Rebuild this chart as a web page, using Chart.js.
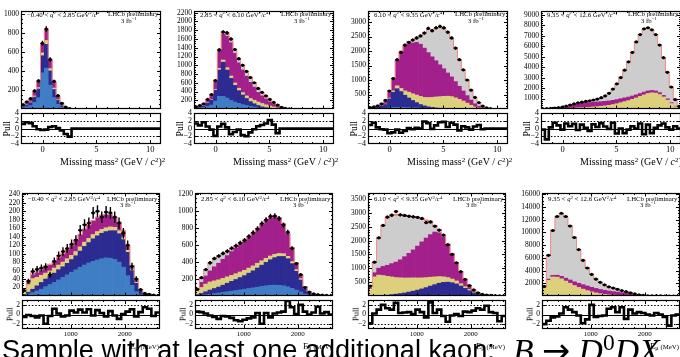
<!DOCTYPE html>
<html><head><meta charset="utf-8">
<script src="https://cdn.jsdelivr.net/npm/chart.js@4.4.1/dist/chart.umd.min.js"></script>
<style>
html,body{margin:0;padding:0;background:#fff}
body{width:680px;height:357px;overflow:hidden;position:relative}
canvas{position:absolute}
.t{position:absolute;white-space:nowrap;color:#000;font-family:'Liberation Serif',serif;line-height:1}
.sp{position:relative;font-size:70%}
</style></head><body>
<script>
// ---------------- DATA ----------------
const qLow  = ['−0.40','2.85','6.10','9.35'];
const qHigh = ['2.85','6.10','9.35','12.6'];

const topXTicks = [0,5,10];
const botXTicks = [1000,2000];
const topPullTicks = [-4,-2,0,2,4];
const botPullTicks = [-2,0,2];
const p1YTicks = [200,400,600,800,1000];
const p2YTicks = [200,400,600,800,1000,1200,1400,1600,1800,2000,2200];
const p3YTicks = [500,1000,1500,2000,2500,3000];
const p4YTicks = [1000,2000,3000,4000,5000,6000,7000,8000,9000];
const p5YTicks = [20,40,60,80,100,120,140,160,180,200,220,240];
const p6YTicks = [200,400,600,800,1000,1200];
const p7YTicks = [500,1000,1500,2000,2500,3000,3500];
const p8YTicks = [2000,4000,6000,8000,10000,12000,14000,16000];

// ---- Top row: missing mass^2, 36 bins in [-2, 11] ----
const p1LB   = [14,24,36,70,120,380,430,250,120,50,18,5,1];
const p1DB   = [12,20,30,55,90,180,250,150,85,40,17,6,1];
const p1Y    = [4,6,8,12,15,30,40,25,15,8,4,2,1];
const p1M    = [12,20,30,45,62,95,115,90,65,38,18,6,2];
const p1G    = [3,5,6,6,6,5,5,5,5,4,3,1,0];
const p1Data = [45,75,110,190,295,690,840,520,290,140,60,20,5];
const p1Pull = [1.2,1.6,1.4,0.6,-0.2,-0.4,-0.3,0.4,0.6,0.1,-0.5,-1.4,-2.1];

const p2LB   = [15,25,35,60,90,180,290,290,250,200,160,130,100,80,60,45,30,20,12,8,5,3,1];
const p2DB   = [15,22,35,70,110,250,600,780,640,500,380,290,220,160,110,75,50,30,18,10,6,3,1];
const p2Y    = [3,5,7,10,12,20,40,50,55,55,55,55,55,60,70,80,80,75,65,50,35,20,8,3,1];
const p2M    = [12,20,33,65,100,180,390,590,720,760,680,580,520,450,370,300,220,175,135,95,65,40,18,7,2];
const p2G    = [4,6,8,12,15,15,25,40,60,70,70,80,90,95,95,90,80,70,62,50,35,22,11,5,2];
const p2R    = [1,2,2,3,3,5,5,10,15,15,15,15,15,15,15,10,10,10,8,7,4,2,1];
const p2Data = [50,80,120,220,330,650,1350,1760,1740,1600,1360,1150,1000,860,720,600,470,380,300,220,150,90,40,15,5];
const p2Pull = [1.3,0.8,1.6,0.5,-0.3,-1.9,0.5,1.2,0.3,-1.5,-0.9,-0.3,-1.7,-2.0,-1.0,-0.2,0.6,0.9,1.3,2.2,1.0,-1.2];

const p3LB   = [5,8,10,15,25,40,55,60,60,55,50,45,40,35,30,25,20,15,10,8,6,4,3,2,1,1];
const p3DB   = [20,28,45,80,130,310,520,640,540,420,330,250,180,120,80,50,30,20,15,10,6,4,3,2,1,1];
const p3Y    = [5,6,8,10,15,30,50,100,110,150,200,230,260,280,290,320,350,380,400,420,430,420,380,330,270,200,130,70,35,15,5,1];
const p3M    = [15,22,38,60,105,210,390,870,1250,1550,1690,1750,1820,1800,1700,1550,1400,1250,1100,950,800,680,560,450,350,260,180,110,60,28,12,3];
const p3G    = [5,6,9,15,25,30,35,30,40,50,60,80,130,280,520,780,900,1080,1250,1350,1380,1310,1150,900,720,530,340,215,120,55,22,6];
const p3R    = [0,0,0,0,0,0,0,0,0,0,0,0,0,0,0,20,30,40,50,40,30,20,15,10,8,6,4,3,2,1];
const p3Data = [50,70,110,180,300,620,1050,1700,1950,2200,2300,2380,2450,2520,2620,2780,2700,2800,2850,2800,2650,2450,2100,1700,1350,1000,650,400,220,100,40,10];
const p3Pull = [0.9,1.5,0.3,-0.2,-0.3,-1.2,-1.0,-0.3,-1.1,-0.6,0.1,-0.2,0.2,0.0,1.8,1.4,-0.1,0.8,1.6,1.7,0.4,1.5,1.0,-0.5,0.6,0.3,-0.3,0.5,0.9,-0.2];

const p4LB   = [5,8,10,12,12,12,10,8,6,5,4,3,2,2,1,1];
const p4DB   = [5,8,10,12,12,10,8,6,5,4,3,2,1,1,1];
const p4Y    = [0,2,5,8,15,25,40,60,80,100,120,140,160,190,220,260,300,350,420,500,600,700,800,920,1050,1200,1350,1480,1550,1520,1380,1150,850,520,220,60];
const p4M    = [5,12,20,35,55,80,140,210,280,350,410,440,450,450,450,440,430,420,410,400,380,360,340,320,300,280,260,240,220,200,180,150,120,80,40,12];
const p4G    = [5,10,15,23,36,53,72,96,109,121,113,135,167,217,278,379,520,730,1070,1500,2020,2640,3360,4160,5050,5620,6040,6030,5780,5380,4540,3600,2530,1500,640,178];
const p4Data = [20,40,60,90,130,180,270,380,480,580,650,720,780,860,950,1080,1250,1500,1900,2400,3000,3700,4500,5400,6400,7100,7650,7750,7550,7100,6100,4900,3500,2100,900,250];
const p4Pull = [-0.3,-2.8,0.3,1.5,0.8,-0.3,1.3,0.6,1.2,-0.4,1.0,0.2,-0.6,1.1,0.4,1.4,0.5,-0.1,1.5,-1.3,0.0,-1.2,-0.3,0.6,0.0,1.3,-1.5,1.0,-1.2,0.2,0.8,1.3,0.3,-0.3,0.6,0];

// ---- Bottom row: E_mu, 32 bins in [100, 2650] MeV ----
const p5LB   = [2,5,8,12,16,22,27,32,38,44,50,56,62,68,73,78,82,85,88,90,89,86,80,68,48,25,10,3,1];
const p5DB   = [2,4,8,12,16,18,20,22,24,25,27,30,33,38,44,48,53,57,60,62,65,68,67,65,55,35,20,8,3,1,1];
const p5Y    = [5,18,25,20,17,14,12,12,11,11,11,10,10,10,10,10,10,10,9,9,9,8,7,6,5,4,3,2,1,1];
const p5M    = [2,5,8,10,11,13,14,15,17,19,21,23,26,28,30,31,32,33,33,31,28,24,20,15,11,7,4,2,1,1,1,1];
const p5G    = [2,3,6,7,6,4,2,1,1,1,1,1,1,1,1,1,1,1,1,1,1,1,1,1,1,1,1];
const p5Data = [13,35,58,63,66,69,50,82,95,105,112,122,132,155,168,172,196,200,186,198,196,186,172,148,120,70,40,15,6,4,2,1];
const p5Pull = [-0.5,-0.1,-0.3,-0.6,-0.2,-1.9,-0.3,1.2,0.2,-0.4,-0.2,0.8,0.4,1.0,0.4,1.1,-0.2,0.9,0.3,-0.4,0.7,-0.2,-0.9,0.1,0.6,1.1,-0.4,0.5,1.5,1.2,-0.3,0.4];

const p6LB   = [5,10,15,20,28,35,42,50,57,64,72,80,88,96,104,112,120,126,128,126,120,108,90,70,48,22,9,4,2,1,1];
const p6DB   = [10,20,35,50,60,70,85,100,115,130,145,160,180,200,225,250,275,300,322,338,345,330,290,220,140,60,25,13,8,5,3,2];
const p6Y    = [40,70,90,95,90,85,80,75,70,68,65,62,60,58,55,52,48,44,40,36,32,28,24,20,16,10,6,4,3,2,2,1];
const p6M    = [15,60,95,130,165,195,225,250,280,303,328,345,367,387,403,428,445,453,448,418,351,272,165,79,45,17,7,4,2,2,1,1];
const p6G    = [10,55,75,95,97,85,68,50,38,25,15,8,5,4,3,3,2,2,2,2,2,2,1,1,1,1,1];
const p6Data = [80,215,310,390,440,470,500,525,560,590,625,655,700,745,790,850,895,935,940,910,835,750,560,380,250,100,45,25,15,10,7,4];
const p6Pull = [0.6,0.5,0.2,-0.2,-0.5,-0.9,-0.3,-0.4,-0.7,-1.2,-1.4,-1.1,-0.8,-0.6,0.3,-1.9,0.3,-0.6,0.2,0.4,0.6,2.8,1.5,0.1,2.0,0.6,0.0,0.4,1.6,0.2,0.5,0.0];

const p7LB   = [0,0,0,0,0,5,5,8,10,12,15,18,20,24,28,30,32,32,30,28,25,20,15,10,6,3,2,1];
const p7DB   = [5,10,15,20,30,45,60,80,100,130,160,195,235,280,330,380,430,460,470,450,410,340,260,180,110,60,30,17,10,6,4,2];
const p7Y    = [250,680,740,720,680,640,600,570,540,510,480,440,400,360,320,280,240,200,165,135,110,85,62,45,30,18,10,7,4,3,2,1];
const p7M    = [40,150,250,330,400,480,560,650,770,890,1010,1150,1300,1430,1540,1620,1580,1440,1200,920,650,432,261,144,73,34,18,10,6,3,2,2];
const p7G    = [60,360,1060,1430,1690,1700,1675,1572,1440,1298,1155,987,795,596,392,200,88,28,5];
const p7R    = [5,20,35,50,50,50,50,50,50,50,50,50,50,50,50,40,30,20,10,7,5,3,2,1,1];
const p7Data = [360,1220,2100,2550,2850,2920,3050,2930,2910,2880,2860,2840,2800,2650,2680,2520,2380,2200,1850,1500,1200,880,600,380,220,110,60,35,20,12,8,5];
const p7Pull = [-1.8,0.2,1.0,2.0,1.3,1.0,2.4,0.3,0.4,0.5,0.1,1.0,0.5,-0.6,2.5,0.3,1.0,-0.3,-1.5,-0.2,0.1,-0.3,0.6,0.5,0.8,1.3,1.0,1.8,0.5,0.3,-1.4,-0.3];

const p8LB   = [50,30,20,10,5];
const p8DB   = [50,30,20,10,5];
const p8Y    = [1200,2400,2950,2950,2700,2350,2000,1650,1350,1080,850,650,490,360,260,190,140,100,70,50,35,20,10,5,2,1];
const p8M    = [100,200,250,300,380,450,520,590,650,700,720,720,700,670,640,600,560,510,450,380,300,210,120,60,28,14,7,3,2,1,1,1];
const p8G    = [100,3740,7060,9230,9860,9600,8580,6960,5350,3870,2830,2030,1510,1120,850,660,530,420,330,250,175,110,60,25,10,5,3,2,1,1];
const p8Data = [1500,6400,10300,12500,13000,12500,11000,9200,7300,5600,4400,3400,2650,2150,1750,1450,1250,1050,850,680,500,330,190,90,40,20,10,5,3,2,1,1];
const p8Pull = [-2.0,-1.3,-0.6,-0.4,0.2,1.5,1.0,0.5,-0.2,-1.8,-1.0,2.0,-0.5,-0.3,-0.2,1.2,1.5,0.5,1.5,-0.9,1.0,0.2,0.5,0.3,0.0,-0.2,0.3,0.0,-0.5,-2.3,-0.2,0];

// ---------------- STYLE / LAYOUT ----------------
const COL = {lb:'#3f7ec4', db:'#2b2b91', y:'#ddd07c', m:'#a3208c', g:'#cdcdcd', r:'#e8432e'};
const OUTLINE = '#f28b82';
const ORDER = ['lb','db','y','m','g','r'];
const PADL=30, PADR=6, PADT=8, PADB=2;
const SERIF = "'Liberation Serif', serif";

const TOP = {T:11,B:111,pT:113,pB:144,xMin:-2,xMax:11,n:36,pMin:-4,pMax:4,pTicks:topPullTicks,
  xTicks:topXTicks,xMinorStep:1,xlab:16,xFont:8.5,pFont:8,annY:[4,3.2,10],W:140};
const BOT = {T:193,B:298,pT:300,pB:329,xMin:100,xMax:2650,n:32,pMin:-3,pMax:3,pTicks:botPullTicks,
  xTicks:botXTicks,xMinorStep:200,xlab:14,xFont:7,pFont:7.5,annY:[6.5,6,12],W:138};

const PANELS = [
 {row:TOP,L:21, q:0,comps:{lb:p1LB,db:p1DB,y:p1Y,m:p1M,g:p1G},data:p1Data,pull:p1Pull,ymax:1030,yTicks:p1YTicks,yMinor:50},
 {row:TOP,L:194,q:1,comps:{lb:p2LB,db:p2DB,y:p2Y,m:p2M,g:p2G,r:p2R},data:p2Data,pull:p2Pull,ymax:2240,yTicks:p2YTicks,yMinor:50},
 {row:TOP,L:368,q:2,comps:{lb:p3LB,db:p3DB,y:p3Y,m:p3M,g:p3G,r:p3R},data:p3Data,pull:p3Pull,ymax:3380,yTicks:p3YTicks,yMinor:100},
 {row:TOP,L:541,q:3,comps:{lb:p4LB,db:p4DB,y:p4Y,m:p4M,g:p4G},data:p4Data,pull:p4Pull,ymax:9350,yTicks:p4YTicks,yMinor:200},
 {row:BOT,L:22, q:0,comps:{lb:p5LB,db:p5DB,y:p5Y,m:p5M,g:p5G},data:p5Data,pull:p5Pull,ymax:243,yTicks:p5YTicks,yMinor:5},
 {row:BOT,L:195,q:1,comps:{lb:p6LB,db:p6DB,y:p6Y,m:p6M,g:p6G},data:p6Data,pull:p6Pull,ymax:1210,yTicks:p6YTicks,yMinor:50},
 {row:BOT,L:368,q:2,comps:{lb:p7LB,db:p7DB,y:p7Y,m:p7M,g:p7G,r:p7R},data:p7Data,pull:p7Pull,ymax:3720,yTicks:p7YTicks,yMinor:100},
 {row:BOT,L:542,q:3,comps:{lb:p8LB,db:p8DB,y:p8Y,m:p8M,g:p8G},data:p8Data,pull:p8Pull,ymax:16200,yTicks:p8YTicks,yMinor:500},
];

function mkCanvas(l,t,w,h){
  const c=document.createElement('canvas'); c.width=w; c.height=h;
  Object.assign(c.style,{left:l+'px',top:t+'px',width:w+'px',height:h+'px'});
  document.body.appendChild(c); return c;
}
function steps(a,b,s){const r=[];for(let v=a;v<=b+1e-9;v+=s)r.push(+v.toFixed(6));return r;}
function fmt(v){return v<0?'−'+Math.abs(v):String(v);}

function drawFrameTicks(ctx,a,X,Y,c){
  ctx.save(); ctx.strokeStyle='#000'; ctx.lineWidth=1; ctx.beginPath();
  const vx=(v,len)=>{const x=Math.round(X.getPixelForValue(v))+0.5; if(x<a.left+1||x>a.right-1) return;
    ctx.moveTo(x,a.bottom); ctx.lineTo(x,a.bottom-len); ctx.moveTo(x,a.top); ctx.lineTo(x,a.top+len);};
  const vy=(v,len)=>{const y=Math.round(Y.getPixelForValue(v))+0.5; if(y<a.top+1||y>a.bottom-1) return;
    ctx.moveTo(a.left,y); ctx.lineTo(a.left+len,y); ctx.moveTo(a.right,y); ctx.lineTo(a.right-len,y);};
  c.xMaj.forEach(v=>vx(v,c.xl)); c.xMin.forEach(v=>vx(v,c.xs));
  c.yMaj.forEach(v=>vy(v,c.yl)); c.yMin.forEach(v=>vy(v,c.ys));
  ctx.stroke();
  ctx.lineWidth=1.2;
  ctx.strokeRect(a.left+0.5,a.top+0.5,a.right-a.left-1,a.bottom-a.top-1);
  ctx.restore();
}

function buildPanel(P){
  const R=P.row, n=R.n, bw=(R.xMax-R.xMin)/n;
  const cs=[],ed=[];
  for(let k=0;k<n;k++) cs.push(R.xMin+(k+0.5)*bw);
  for(let k=0;k<=n;k++) ed.push(R.xMin+k*bw);
  const val=(arr,k)=>(arr&&arr[k])||0;
  const Rt=P.L+R.W;
  const W=R.W+PADL+PADR, H=R.B-R.T+PADT+PADB;
  const xMinor=steps(Math.ceil(R.xMin/R.xMinorStep)*R.xMinorStep,R.xMax,R.xMinorStep);
  // ---- main histogram ----
  const c1=mkCanvas(P.L-PADL,R.T-PADT,W,H);
  const ds=[];
  ORDER.forEach(key=>{const arr=P.comps[key]; if(!arr) return;
    const pts=[]; for(let k=0;k<n;k++){const v=val(arr,k); if(v>0) pts.push({x:cs[k],y:v});}
    ds.push({type:'bar',stack:'h',data:pts,backgroundColor:COL[key],borderWidth:0,barPercentage:1,categoryPercentage:1,order:5});
  });
  const tot=[]; for(let k=0;k<n;k++) tot.push(ORDER.reduce((s,key)=>s+val(P.comps[key],k),0));
  const outl=[]; for(let k=0;k<n;k++) outl.push({x:ed[k],y:tot[k]}); outl.push({x:ed[n],y:tot[n-1]});
  ds.push({type:'line',stack:'o',data:outl,stepped:true,borderColor:OUTLINE,borderWidth:1,pointRadius:0,fill:false,order:2});
  const dp=[]; for(let k=0;k<n;k++){const v=val(P.data,k); if(v>0) dp.push({x:cs[k],y:v});}
  ds.push({type:'line',stack:'d',data:dp,showLine:false,pointRadius:1.6,pointBackgroundColor:'#000',pointBorderColor:'#000',pointBorderWidth:0,order:1});
  const yMinor=steps(P.yMinor,P.ymax,P.yMinor);
  new Chart(c1,{type:'bar',data:{datasets:ds},options:{
    responsive:false,animation:false,devicePixelRatio:1,
    layout:{padding:{left:PADL,right:PADR,top:PADT,bottom:PADB}},
    plugins:{legend:{display:false},tooltip:{enabled:false}},
    scales:{x:{type:'linear',display:false,min:R.xMin,max:R.xMax,stacked:true,offset:false},
            y:{type:'linear',display:false,min:0,max:P.ymax,stacked:true}}},
    plugins:[{id:'mainDeco',afterDatasetsDraw(chart){
      const ctx=chart.ctx,a=chart.chartArea,X=chart.scales.x,Y=chart.scales.y;
      ctx.save(); ctx.beginPath(); ctx.rect(a.left,a.top,a.right-a.left,a.bottom-a.top); ctx.clip();
      ctx.strokeStyle='#000'; ctx.lineWidth=1.4; ctx.beginPath();
      for(let k=0;k<n;k++){const v=val(P.data,k); if(!(v>0)) continue; const e=Math.sqrt(v);
        const x=X.getPixelForValue(cs[k]), y=Y.getPixelForValue(v);
        ctx.moveTo(X.getPixelForValue(cs[k]-bw/2),y); ctx.lineTo(X.getPixelForValue(cs[k]+bw/2),y);
        ctx.moveTo(x,Y.getPixelForValue(v+e)); ctx.lineTo(x,Y.getPixelForValue(Math.max(v-e,0)));}
      ctx.stroke(); ctx.restore();
      drawFrameTicks(ctx,a,X,Y,{xMaj:R.xTicks,xMin:xMinor,yMaj:P.yTicks,yMin:yMinor,xl:3.5,xs:2,yl:4,ys:2});
      ctx.save(); ctx.fillStyle='#000'; ctx.font='7.5px '+SERIF; ctx.textAlign='right'; ctx.textBaseline='middle';
      P.yTicks.forEach(v=>ctx.fillText(String(v),a.left-2,Y.getPixelForValue(v)));
      ctx.restore();
    }}]});
  // ---- pull ----
  const PH=R.pB-R.pT+PADT+R.xlab;
  const c2=mkCanvas(P.L-PADL,R.pT-PADT,W,PH);
  const pp=[]; for(let k=0;k<n;k++) pp.push({x:ed[k],y:val(P.pull,k)}); pp.push({x:ed[n],y:val(P.pull,n-1)});
  new Chart(c2,{type:'line',data:{datasets:[{data:pp,stepped:true,borderColor:'#000',borderWidth:2.6,pointRadius:0,fill:false}]},
    options:{responsive:false,animation:false,devicePixelRatio:1,
      layout:{padding:{left:PADL,right:PADR,top:PADT,bottom:R.xlab}},
      plugins:{legend:{display:false},tooltip:{enabled:false}},
      scales:{x:{type:'linear',display:false,min:R.xMin,max:R.xMax},y:{type:'linear',display:false,min:R.pMin,max:R.pMax}}},
    plugins:[{id:'pullDeco',
      beforeDatasetsDraw(chart){const ctx=chart.ctx,a=chart.chartArea,Y=chart.scales.y;
        ctx.save(); ctx.strokeStyle='#000'; ctx.lineWidth=1;
        [2,-2].forEach(v=>{const y=Math.round(Y.getPixelForValue(v))+0.5; ctx.setLineDash([1.5,1.8]); ctx.beginPath(); ctx.moveTo(a.left,y); ctx.lineTo(a.right,y); ctx.stroke();});
        ctx.setLineDash([]); const y0=Math.round(Y.getPixelForValue(0))+0.5; ctx.beginPath(); ctx.moveTo(a.left,y0); ctx.lineTo(a.right,y0); ctx.stroke();
        ctx.restore();},
      afterDatasetsDraw(chart){const ctx=chart.ctx,a=chart.chartArea,X=chart.scales.x,Y=chart.scales.y;
        drawFrameTicks(ctx,a,X,Y,{xMaj:R.xTicks,xMin:xMinor,yMaj:R.pTicks,yMin:[],xl:4,xs:2,yl:4,ys:2});
        ctx.save(); ctx.fillStyle='#000';
        ctx.font=R.pFont+'px '+SERIF; ctx.textAlign='right'; ctx.textBaseline='middle';
        R.pTicks.forEach(v=>ctx.fillText(fmt(v),a.left-2,Y.getPixelForValue(v)));
        ctx.font=R.xFont+'px '+SERIF; ctx.textAlign='center'; ctx.textBaseline='top';
        R.xTicks.forEach(v=>ctx.fillText(String(v),X.getPixelForValue(v),a.bottom+2));
        ctx.restore();}}]});
  // ---- annotations (HTML text) ----
  const sup=s=>`<span class="sp" style="top:-0.45em">${s}</span>`;
  addT(`${qLow[P.q]} &lt; <i>q</i>${sup('2')} &lt; ${qHigh[P.q]} GeV${sup('2')}/<i>c</i>${sup('4')}`,P.L+6,R.T+R.annY[0],6.8,'l');
  const lh=addT('LHCb preliminary',Rt-3,R.T+R.annY[1],6.8,'r');
  const lc=lh.offsetLeft+lh.offsetWidth/2;
  addT(`3 fb${sup('−1')}`,lc-4,R.T+R.annY[2],6.8,'c');
  if(R===TOP){
    addT(`Missing mass${sup('2')} (GeV / <i>c</i>${sup('2')})${sup('2')}`,Rt+4,162,10,'r');
    addT('Pull',P.L-14,128.5,9.5,'c',true);
  } else {
    const e=addT(`E<span class="sp" style="top:0.3em">μ</span> <span style="font-size:80%">(MeV)</span>`,Rt-1,346,8.5,'r');
    e.style.zIndex=3;
    addT('Pull',P.L-12,314.5,8.5,'c',true);
  }
}

function addT(html,x,y,size,align,rot){
  const d=document.createElement('div'); d.className='t'; d.innerHTML=html; d.style.fontSize=size+'px';
  document.body.appendChild(d);
  const w=d.offsetWidth,h=d.offsetHeight;
  d.style.left=(align==='r'?x-w:align==='c'?x-w/2:x)+'px'; d.style.top=(y-h/2)+'px';
  if(rot){d.style.transform='rotate(-90deg)';d.style.transformOrigin='50% 50%';}
  return d;
}

function buildTitle(){
  const t=document.createElement('div'); t.className='t';
  t.style.fontFamily="'Liberation Sans', sans-serif"; t.style.fontSize='28px'; t.style.zIndex=1;
  t.textContent='Sample with at least one additional kaon:';
  document.body.appendChild(t);
  let fs=28*493/t.offsetWidth; t.style.fontSize=fs+'px'; t.style.left='2px'; t.style.top=(340-0.13*fs)+'px';
  const m=document.createElement('div'); m.className='t'; m.style.fontSize='30px'; m.style.zIndex=1;
  m.innerHTML='<i>B</i> <span style="font-family:\'DejaVu Sans\'">→</span> <i>D</i><span class="sp" style="top:-0.5em">0</span><i>DX</i>';
  document.body.appendChild(m);
  fs=30*147/m.offsetWidth; m.style.fontSize=fs+'px'; m.style.left='513px'; m.style.top=(340-0.1755*fs)+'px';
}

Promise.all([document.fonts.load("10px 'Liberation Serif'"),document.fonts.load("italic 10px 'Liberation Serif'"),
  document.fonts.load("10px 'Liberation Sans'")]).catch(()=>{}).then(()=>{
  buildTitle();
  PANELS.forEach(buildPanel);
});
</script></body></html>
